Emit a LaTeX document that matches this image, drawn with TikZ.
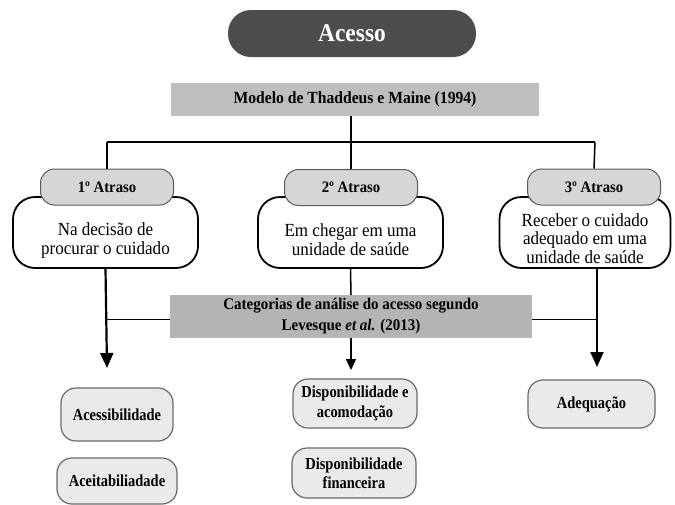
\documentclass[tikz,border=0pt]{standalone}
\usepackage{fontspec}
\setmainfont[FakeStretch=0.92]{Liberation Serif}
\newfontfamily\narrowfont[FakeStretch=0.86]{Liberation Serif}
\usetikzlibrary{arrows.meta,positioning}
\definecolor{pillgray}{RGB}{77,77,77}
\definecolor{bandgray}{RGB}{190,190,190}
\definecolor{bandcat}{RGB}{180,180,180}
\definecolor{tabfill}{RGB}{214,214,214}
\definecolor{tabline}{RGB}{90,90,90}
\definecolor{catfill}{RGB}{234,234,234}
\definecolor{catline}{RGB}{105,105,105}
\tikzset{
  pill/.style={fill=pillgray,rounded corners=23pt,minimum width=248pt,minimum height=47pt,
    inner sep=0pt,text=white,font=\fontsize{25.5}{28}\selectfont\bfseries},
  source/.style={fill=bandgray,inner sep=0pt,minimum height=33pt,align=center,
    font=\fontsize{17}{19}\selectfont\bfseries},
  tabbox/.style={draw=tabline,fill=tabfill,line width=1pt,rounded corners=14pt,
    minimum width=133pt,minimum height=36pt,inner sep=0pt,font=\fontsize{16}{18}\selectfont\bfseries},
  delay/.style={draw=black,fill=white,line width=1.8pt,rounded corners=22pt,
    minimum height=71pt,inner sep=0pt},
  delaytxt/.style={align=center,inner sep=0pt,font=\fontsize{18.5}{18.5}\selectfont},
  catbox/.style={draw=catline,fill=catfill,line width=1.2pt,rounded corners=15pt,
    inner sep=0pt,align=center,font=\narrowfont\fontsize{16.8}{19.5}\selectfont\bfseries},
  link/.style={line width=1.5pt},
  bigarr/.style={-{Triangle[length=15pt,width=13pt]},line width=2.2pt},
  thinarr/.style={-{Triangle[length=11pt,width=10pt]},line width=1.3pt},
}
\begin{document}
\begin{tikzpicture}[x=1pt,y=-1pt]
  \useasboundingbox (0,0) rectangle (675,504);
  % top
  \node[pill] (acesso) at (352,33.5) {Acesso};
  \node[source,minimum width=368pt] (modelo) at (355,99.5) {Modelo de Thaddeus e Maine (1994)};
  \coordinate (jl) at (107,142);
  \coordinate (jc) at (351,142);
  \coordinate (jr) at (595,142);
  % the three delays
  \node[delay,minimum width=185pt] (d1) at (105.5,232.5) {};
  \node[delay,minimum width=185pt] (d2) at (350.5,232.5) {};
  \node[delay,minimum width=171pt] (d3) at (585,232.5) {};
  \node[delaytxt] (t1) at ([yshift=-8pt]d1.center) {Na decisão de\\procurar o cuidado};
  \node[delaytxt] (t2) at ([yshift=-7pt]d2.center) {Em chegar em uma\\unidade de saúde};
  \node[delaytxt] (t3) at ([yshift=-6pt]d3.center) {Receber o cuidado\\adequado em uma\\unidade de saúde};
  \node[tabbox] (a1) at (107,187) {1º Atraso};
  \node[tabbox] (a2) at (351,187.5) {2º Atraso};
  \node[tabbox] (a3) at (594,187) {3º Atraso};
  \draw[link] (modelo.south -| jc) -- (jc);
  \draw[link] (jl) -- (jr);
  \draw[link] (jl) -- (a1.north);
  \draw[link] (jc) -- (a2.north);
  \draw[link] (jr) -- (a3.north);
  % categories
  \node[source,fill=bandcat,minimum width=362pt,minimum height=43pt,
    font=\fontsize{16.3}{21}\selectfont\bfseries] (levesque) at (351,316.5)
    {Categorias de análise do acesso segundo\\Levesque \textit{et al.} (2013)};
  \coordinate (tipl) at (107,368);
  \coordinate (tipc) at (351,370);
  \coordinate (tipr) at (597,367);
  \draw[link] (d2.south) -- (levesque.north);
  \draw[link] ([yshift=-3pt]levesque.west) -- ([yshift=-3pt]levesque.west -| tipl);
  \draw[link] ([yshift=-3pt]levesque.east) -- ([yshift=-3pt]levesque.east -| tipr);
  \draw[bigarr] (d1.south) -- (tipl);
  \draw[bigarr] (d3.south -| tipr) -- (tipr);
  \draw[thinarr] (levesque.south) -- (tipc);
  % Levesque categories
  \node[catbox,minimum width=112pt,minimum height=53pt] (c1) at (117,414.5) {Acessibilidade};
  \node[catbox,minimum width=120pt,minimum height=46pt] (c2) at (117,481) {Aceitabiliadade};
  \node[catbox,minimum width=124pt,minimum height=49pt] (c3) at (355,403.5) {Disponibilidade e\\acomodação};
  \node[catbox,minimum width=124pt,minimum height=50pt] (c4) at (354,473) {Disponibilidade\\financeira};
  \node[catbox,minimum width=127pt,minimum height=48pt] (c5) at (591.5,404) {Adequação};
\end{tikzpicture}
\end{document}
